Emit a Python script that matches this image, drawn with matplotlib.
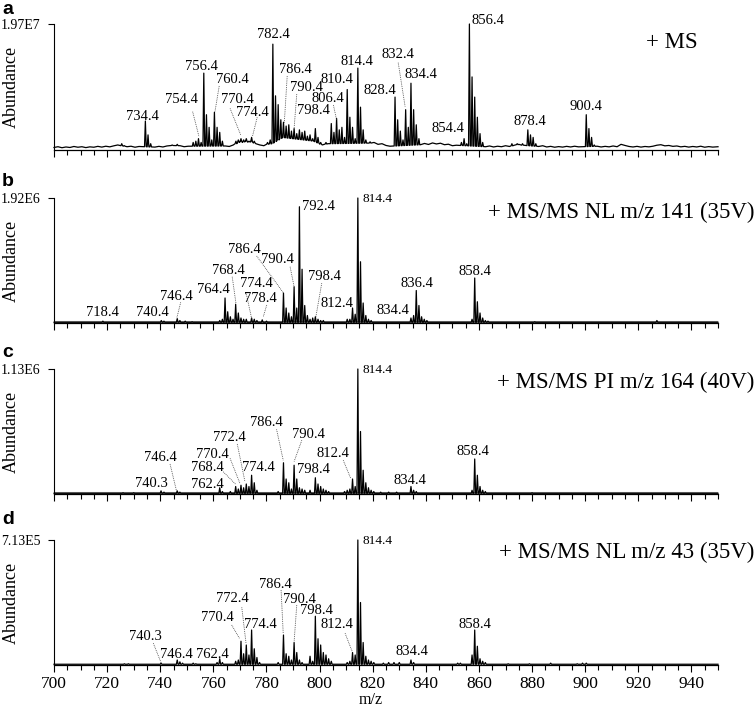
import numpy as np
import matplotlib
matplotlib.use("Agg")
import matplotlib.pyplot as plt
from matplotlib.ticker import MultipleLocator

plt.rcParams['font.family'] = ['Liberation Serif', 'DejaVu Serif']

# ---------------- data (relative abundance, % of panel maximum) ----------------
panel_letters = ["a", "b", "c", "d"]
panel_titles = ["+ MS", "+ MS/MS NL m/z 141 (35V)", "+ MS/MS PI m/z 164 (40V)", "+ MS/MS NL m/z 43 (35V)"]
panel_max = ["1.97E7", "1.92E6", "1.13E6", "7.13E5"]

# panel a: full scan
a_mz = [725.5, 726.4, 734.4, 735.4, 736.4, 744.5, 746.4, 752.4, 753.4, 754.4, 755.4,
        756.4, 757.4, 758.4, 759.4, 760.4, 761.4, 762.4, 763.4,
        768.5, 769.4, 770.4, 771.4, 772.4, 773.4, 774.4, 775.4, 780.4, 781.4,
        782.4, 783.4, 784.4, 785.4, 786.4, 787.4, 788.4, 789.4, 790.4, 791.4, 792.4,
        793.4, 794.4, 795.4, 796.4, 797.4, 798.4, 799.4, 800.4,
        802.4, 803.4, 804.4, 805.4, 806.4, 807.4, 808.4, 809.4, 810.4, 811.4, 812.4,
        813.4, 814.4, 815.4, 816.4, 817.4, 819.0,
        828.4, 829.4, 830.4, 831.4, 832.4, 833.4, 834.4, 835.4, 836.4, 837.4,
        853.4, 854.4, 855.4, 856.4, 857.4, 858.4, 859.4, 860.4, 861.4,
        872.4, 874.4, 876.4, 878.4, 879.4, 880.4, 881.4, 900.4, 901.4, 902.4, 903.4]
a_int = [5, 3.5, 23, 12, 5, 4, 4.5, 6, 7, 9, 6,
         61, 28, 18, 8, 30, 18, 14, 7,
         7, 8, 9, 8, 9, 7, 10, 7, 6, 8,
         84, 43, 36, 24, 22, 19, 20, 15, 17, 13, 16,
         14, 15, 11, 12, 9, 17, 10, 6,
         6, 5, 21, 14, 25, 16, 18, 10, 48, 26, 18,
         9, 65, 34, 16, 8, 6.5,
         42, 24, 15, 8, 32, 18, 53, 32, 20, 9,
         6, 9, 5, 100, 58, 42, 26, 13, 6,
         5, 5, 5, 16, 12, 10, 5, 28, 17, 10, 4]
a_base_mz = [700, 701.5, 703, 704.5, 706, 707.5, 709, 710.5, 712, 713.5, 715, 716.5, 718,
             719.5, 721, 722.5, 724, 727.5, 729, 730.5, 732, 738, 739.5, 741, 742.5, 744,
             747.5, 749, 750.5, 764.5, 766, 767.5, 769, 770, 771, 772, 773, 774, 776, 777.5,
             779, 780, 782, 786, 790, 794, 798, 801, 803, 819, 820.5, 822, 823.5, 825, 826.5,
             838, 839.5, 841, 842.5, 844, 845.5, 847, 848.5, 850, 851.5, 862.5, 864, 865.5,
             867, 868.5, 870, 871.5, 873, 875, 876.5, 882.5, 884, 885.5, 887, 888.5, 890,
             891.5, 893, 894.5, 896, 897.5, 904.5, 906, 907.5, 909, 910.5, 912, 913.5, 915,
             916.5, 918, 919.5, 921, 922.5, 924, 925.5, 927, 928.5, 930, 931.5, 933, 934.5,
             936, 937.5, 939, 940.5, 942, 943.5, 945, 946.5, 948, 950]
a_base = [2.0, 2.6, 1.8, 2.4, 2.0, 2.8, 2.2, 2.6, 1.9, 2.5, 2.2, 2.9, 2.3,
          3.0, 2.5, 3.3, 4.0, 2.6, 3.0, 2.2, 2.8, 2.3, 2.9, 2.4, 3.2, 3.6,
          3.4, 2.6, 3.0, 3.2, 2.8, 4.0, 5.5, 6.8, 6.0, 7.0, 6.2, 6.8, 5.0, 4.0,
          3.4, 4.5, 5.0, 10, 9, 8, 7, 4, 5, 5.5, 6.0, 4.5, 5.0, 3.6, 3.0,
          4.2, 5.2, 4.4, 5.6, 4.8, 5.4, 4.2, 4.6, 3.4, 3.8, 2.6, 3.2, 2.4,
          3.0, 2.6, 3.4, 2.8, 3.6, 4.5, 3.8, 2.8, 3.4, 2.4, 2.9, 2.2, 2.7,
          2.3, 2.9, 2.4, 3.0, 2.5, 3.0, 2.4, 2.9, 2.5, 3.2, 2.6, 4.5,
          3.6, 2.8, 2.4, 2.9, 2.3, 2.8, 2.5, 3.0, 3.8, 4.2, 3.3, 3.6, 2.9,
          3.2, 2.5, 2.9, 2.3, 2.8, 2.4, 3.0, 2.2, 2.7, 2.3, 2.6]

# panel b: neutral loss 141
b_mz = [718.4, 740.4, 741.4, 746.4, 747.4, 749.4, 752.0,
        762.4, 763.4, 764.4, 765.4, 766.4, 767.4, 768.4, 769.4, 770.4, 771.4, 772.4,
        774.4, 775.4, 776.4, 778.4, 780.0,
        786.4, 787.4, 788.4, 789.4, 790.4, 791.4, 792.4, 793.4, 794.4, 795.4, 796.4,
        797.4, 798.4, 799.4, 800.4, 801.4,
        810.4, 811.4, 812.4, 813.4, 814.4, 815.4, 816.4, 817.4, 818.4, 819.4,
        834.4, 835.4, 836.4, 837.4, 838.4, 839.4, 840.4,
        857.4, 858.4, 859.4, 860.4, 861.4, 862.4, 863.4, 881.0, 927.0]
b_int = [1.5, 2, 1.5, 3.5, 2, 1.5, 1,
         2, 3, 20, 9, 5, 3, 15, 8, 4, 3, 3,
         4, 3, 2, 2.5, 1.5,
         24, 12, 8, 5, 29, 12, 93, 43, 14, 6, 3,
         4, 5, 3, 2, 2,
         3, 3, 12, 7, 100, 49, 16, 6, 3, 2,
         4, 6, 26, 14, 5, 3, 2,
         3, 36, 17, 8, 4, 2, 1.5, 1, 2]

# panel c: precursor ion 164
c_mz = [726.0, 730.0, 740.3, 741.4, 746.4, 747.4,
        762.4, 763.4, 766.4, 768.4, 769.4, 770.4, 771.4, 772.4, 773.4, 774.4, 775.4, 776.4,
        784.4, 786.4, 787.4, 788.4, 789.4, 790.4, 791.4, 792.4, 793.4, 794.4, 796.4,
        798.4, 799.4, 800.4, 801.4, 802.4, 803.4,
        809.4, 810.4, 811.4, 812.4, 813.4, 814.4, 815.4, 816.4, 817.4, 818.4, 819.4, 820.4,
        823.0, 826.0, 829.0, 834.4, 835.4, 836.4,
        857.4, 858.4, 859.4, 860.4, 861.4, 862.4, 880.0]
c_int = [1, 1, 2.5, 1.5, 2.5, 1.5,
         5, 2, 2, 6, 4, 7, 5, 8, 6, 15, 9, 3,
         2, 25, 12, 9, 4, 23, 12, 5, 4, 3, 3,
         13, 8, 6, 4, 3, 2,
         2, 3, 4, 12, 6, 100, 50, 19, 9, 5, 3, 2,
         1.5, 1.5, 1.5, 6, 3, 2,
         3, 28, 15, 6, 3, 2, 1]

# panel d: neutral loss 43
d_mz = [726.5, 728.0, 740.3, 746.4, 747.4, 748.4, 752.4, 753.4,
        761.4, 762.4, 763.4, 768.4, 769.4, 770.4, 771.4, 772.4, 773.4, 774.4, 775.4, 776.4, 777.4,
        784.4, 786.4, 787.4, 788.4, 789.4, 790.4, 791.4, 792.4, 793.4, 796.4, 797.4,
        798.4, 799.4, 800.4, 801.4, 802.4, 803.4, 804.4,
        810.4, 811.4, 812.4, 813.4, 814.4, 815.4, 816.4, 817.4, 818.4, 819.4, 820.4,
        824.0, 826.0, 828.0, 830.0, 834.4, 835.4,
        852.0, 853.0, 857.4, 858.4, 859.4, 860.4, 861.4, 862.4,
        871.0, 879.0, 887.0, 897.0, 899.0, 900.4]
d_int = [1, 1, 1.5, 4, 2.5, 1.5, 1.5, 1,
         2, 5, 2, 3, 4, 19, 9, 16, 8, 28, 13, 6, 2,
         2, 24, 9, 7, 4, 18, 10, 4, 2, 7, 3,
         39, 21, 16, 10, 8, 5, 3,
         2, 3, 10, 8, 100, 50, 18, 7, 4, 3, 2,
         1.5, 2, 2, 2, 4, 2,
         1.5, 1.5, 8, 28, 15, 5, 3, 2,
         1, 1, 1.5, 1, 1.5, 1.5]

flat_mz = [700, 950]
flat_b = [0.6, 0.6]

spectra = [(a_mz, a_int, a_base_mz, a_base),
           (b_mz, b_int, flat_mz, flat_b),
           (c_mz, c_int, flat_mz, flat_b),
           (d_mz, d_int, flat_mz, flat_b)]

# peak annotations: (text, label x, label y, leader [x0, y0, x1, y1] or None)
ann_a = [("734.4", 733.3, 26.5, None), ("754.4", 748.1, 39.7, (752.2, 30.4, 754.6, 10.6)),
         ("756.4", 755.6, 66.1, None), ("760.4", 767.3, 56.1, (762.2, 50.8, 760.6, 30.4)),
         ("770.4", 769.0, 39.7, (766.3, 33.0, 770.3, 11.9)), ("774.4", 774.6, 29.6, (776.5, 25.9, 774.7, 10.6)),
         ("782.4", 782.6, 91.3, None), ("786.4", 790.7, 64.0, (787.8, 58.7, 786.7, 21.2)),
         ("790.4", 795.1, 49.7, (791.4, 44.4, 790.4, 17.2)), ("798.4", 797.6, 31.5, None),
         ("806.4", 803.0, 40.5, (805.2, 35.7, 806.4, 23.8)), ("810.4", 806.4, 55.6, None),
         ("814.4", 814.0, 70.0, None), ("828.4", 822.7, 47.0, None),
         ("832.4", 829.6, 75.4, (829.6, 69.3, 832.2, 34.4)), ("834.4", 838.1, 60.3, None),
         ("854.4", 848.2, 17.2, None), ("856.4", 863.5, 102.4, None),
         ("878.4", 879.0, 22.5, None), ("900.4", 900.2, 34.4, None)]
ann_b = [("718.4", 718.2, 8.3, None), ("740.4", 737.2, 8.3, None),
         ("746.4", 746.2, 21.0, (747.7, 16.5, 746.2, 3.7)), ("764.4", 760.0, 27.0, None),
         ("768.4", 765.8, 41.6, (767.1, 37.0, 768.5, 15.8)), ("774.4", 776.3, 31.2, (772.3, 24.3, 774.4, 3.7)),
         ("778.4", 777.6, 19.7, (780.1, 14.4, 778.8, 5.0)), ("786.4", 771.6, 59.0, (776.3, 53.6, 786.3, 24.3)),
         ("790.4", 784.2, 51.0, (788.9, 45.0, 790.4, 29.0)), ("792.4", 799.5, 93.6, None),
         ("798.4", 802.0, 37.0, (800.8, 31.8, 798.6, 5.0)), ("812.4", 806.4, 15.8, None),
         ("834.4", 827.8, 9.8, None), ("836.4", 836.5, 31.8, None), ("858.4", 858.3, 41.0, None)]
ann_c = [("740.3", 736.8, 8.5, None), ("746.4", 740.2, 29.3, (743.7, 24.0, 746.2, 1.8)),
         ("762.4", 757.7, 7.7, None), ("768.4", 757.8, 21.4, (763.7, 17.8, 768.3, 8.0)),
         ("770.4", 759.6, 31.2, (766.3, 28.5, 770.0, 8.5)), ("772.4", 766.0, 45.0, (769.0, 40.0, 771.9, 9.8)),
         ("774.4", 776.9, 21.4, None), ("786.4", 780.1, 57.4, (783.8, 51.7, 786.3, 27.0)),
         ("790.4", 795.8, 47.7, (793.3, 43.0, 790.4, 26.0)), ("798.4", 797.6, 19.7, None),
         ("812.4", 805.2, 32.6, (808.9, 27.0, 811.7, 12.6)), ("834.4", 834.0, 11.2, None),
         ("858.4", 857.6, 33.8, None)]
ann_d = [("740.3", 734.3, 22.6, (737.4, 17.4, 740.3, 1.9)), ("746.4", 746.2, 8.5, None),
         ("762.4", 759.6, 8.5, None), ("770.4", 761.6, 38.1, (766.9, 32.0, 769.8, 21.4)),
         ("772.4", 767.1, 52.8, (770.7, 46.1, 772.3, 17.4)), ("774.4", 777.6, 32.6, None),
         ("786.4", 783.2, 64.8, (785.5, 60.0, 786.3, 25.4)), ("790.4", 792.4, 52.5, (791.4, 48.0, 790.4, 18.6)),
         ("798.4", 798.9, 44.0, None), ("812.4", 806.4, 32.0, (809.6, 25.4, 812.3, 10.6)),
         ("834.4", 834.7, 10.6, None), ("858.4", 858.3, 32.8, None)]
annotations = [ann_a, ann_b, ann_c, ann_d]

# ---------------- figure ----------------
W, H = 756, 709
fig = plt.figure(figsize=(W / 100, H / 100), dpi=100)
x0, x1 = 54, 718
panels_px = [(24, 150), (198, 323), (369, 494), (540, 665)]
letter_y = [14, 186, 357, 524]
title_pos = [(698, 43), (754, 212), (754, 382), (754, 552)]


def profile(mz, inten, bmz, bint, hw=0.32):
    mz = np.asarray(mz, float)
    bmz = np.asarray(bmz, float)
    bint = np.asarray(bint, float)
    keep = np.array([np.min(np.abs(mz - b)) > hw for b in bmz])
    xs = list(bmz[keep])
    ys = list(bint[keep])
    for m, h in zip(mz, inten):
        b = np.interp(m, bmz, bint)
        xs += [m - hw, m, m + hw]
        ys += [b, h, b]
    order = np.argsort(xs, kind="stable")
    return np.asarray(xs)[order], np.asarray(ys)[order]


for i, (top, bot) in enumerate(panels_px):
    ax = fig.add_axes([x0 / W, 1 - bot / H, (x1 - x0) / W, (bot - top) / H])
    mz, inten, bmz, bint = spectra[i]
    xs, ys = profile(mz, inten, bmz, bint)
    if i in (1, 2):
        ax.plot([700, 950], [0.6, 0.6], color="#8a8a8a", lw=2.2, zorder=1, solid_capstyle="butt")
    ax.plot(xs, ys, color="black", lw=0.9, zorder=2, clip_on=False)
    ax.set_xlim(700, 950)
    ax.set_ylim(0, 100)
    for s in ("top", "right"):
        ax.spines[s].set_visible(False)
    ax.spines["left"].set_linewidth(0.8)
    ax.spines["bottom"].set_linewidth(0.9)
    ax.set_yticks([100])
    ax.set_yticklabels([panel_max[i]], fontsize=10)
    ax.tick_params(axis="y", length=4.2, width=0.8, pad=5.5)
    ax.xaxis.set_major_locator(MultipleLocator(20))
    ax.xaxis.set_minor_locator(MultipleLocator(5))
    ax.tick_params(axis="x", which="major", length=5, width=0.8, direction="out", pad=3, labelsize=12.5)
    ax.tick_params(axis="x", which="minor", length=3.5, width=0.8, direction="out")
    if i < 3:
        ax.tick_params(axis="x", labelbottom=False)
    fig.text(11 / W, 1 - (top + bot) / 2 / H, "Abundance", fontsize=13, rotation=90,
             ha="center", va="center")

    for txt, lx, ly, lead in annotations[i]:
        ax.text(lx, ly, txt, fontsize=10.5, ha="center", va="center", clip_on=False)
        if lead is not None:
            ax.plot([lead[0], lead[2]], [lead[1], lead[3]], ls=(0, (1, 1.2)), lw=0.6,
                    color="0.25", clip_on=False)
    if i > 0:
        ax.text(816.3, 99.5, "814.4", fontsize=9.5, ha="left", va="center", clip_on=False)

    fig.text(2 / W, 1 - letter_y[i] / H, panel_letters[i], fontsize=14, fontweight="bold",
             family=["Liberation Sans", "DejaVu Sans"], ha="left", va="baseline")
    tx, ty = title_pos[i]
    fig.text(tx / W, 1 - ty / H, panel_titles[i], fontsize=16.5, ha="right", va="center")

fig.text(371 / W, 1 - 700.5 / H, "m/z", fontsize=11.5, ha="center", va="center")

fig.savefig("out.png", dpi=100)
